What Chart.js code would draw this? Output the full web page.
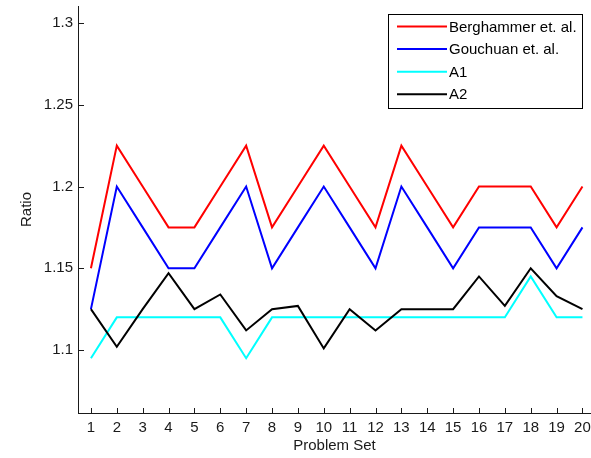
<!DOCTYPE html>
<html>
<head>
<meta charset="utf-8">
<script src="https://cdn.jsdelivr.net/npm/chart.js@4/dist/chart.umd.min.js"></script>
<style>
	html, body { margin: 0; padding: 0; background: #fff; }
	#wrap { width: 591px; height: 458px; }
</style>
</head>
<body>
<div id="wrap"><canvas id="chart" width="591" height="458"></canvas></div>
<script>
const problemSets = [1, 2, 3, 4, 5, 6, 7, 8, 9, 10, 11, 12, 13, 14, 15, 16, 17, 18, 19, 20];
const berghammer = [1.15, 1.225, 1.2, 1.175, 1.175, 1.2, 1.225, 1.175, 1.2, 1.225, 1.2, 1.175, 1.225, 1.2, 1.175, 1.2, 1.2, 1.2, 1.175, 1.2];
const gouchuan = [1.125, 1.2, 1.175, 1.15, 1.15, 1.175, 1.2, 1.15, 1.175, 1.2, 1.175, 1.15, 1.2, 1.175, 1.15, 1.175, 1.175, 1.175, 1.15, 1.175];
const a1 = [1.095, 1.12, 1.12, 1.12, 1.12, 1.12, 1.095, 1.12, 1.12, 1.12, 1.12, 1.12, 1.12, 1.12, 1.12, 1.12, 1.12, 1.145, 1.12, 1.12];
const a2 = [1.125, 1.102, 1.125, 1.147, 1.125, 1.134, 1.112, 1.125, 1.127, 1.101, 1.125, 1.112, 1.125, 1.125, 1.125, 1.145, 1.127, 1.15, 1.133, 1.125];
const yTicks = [1.1, 1.15, 1.2, 1.25, 1.3];

const FONT = "'Liberation Sans', Arial, sans-serif";
const FONT_SIZE = 15;
const INK = '#1a1a1a';

function series(label, values, color, order){
	return {
		label: label,
		data: problemSets.map((p, i) => ({x: p, y: values[i]})),
		borderColor: color,
		backgroundColor: color,
		borderWidth: 2,
		pointRadius: 0,
		tension: 0,
		fill: false,
		order: order
	};
}

// MATLAB style ticks pointing into the plot
const inwardTicks = {
	id: 'inwardTicks',
	afterDraw(chart){
		const ctx = chart.ctx;
		const area = chart.chartArea;
		ctx.save();
		ctx.strokeStyle = INK;
		ctx.lineWidth = 1;
		ctx.beginPath();
		chart.scales.y.ticks.forEach(t => {
			const py = Math.round(chart.scales.y.getPixelForValue(t.value)) + 0.5;
			ctx.moveTo(area.left, py);
			ctx.lineTo(area.left + 6, py);
		});
		chart.scales.x.ticks.forEach(t => {
			const px = Math.round(chart.scales.x.getPixelForValue(t.value)) + 0.5;
			ctx.moveTo(px, area.bottom);
			ctx.lineTo(px, area.bottom - 5);
		});
		ctx.stroke();
		ctx.restore();
	}
};

// boxed legend in the top right corner of the axes
const boxLegend = {
	id: 'boxLegend',
	afterDraw(chart){
		const ctx = chart.ctx;
		const x0 = 388.5, y0 = 14.5, w = 194, h = 94;
		ctx.save();
		ctx.fillStyle = '#fff';
		ctx.fillRect(x0, y0, w, h);
		ctx.strokeStyle = '#000';
		ctx.lineWidth = 1;
		ctx.strokeRect(x0, y0, w, h);
		ctx.font = FONT_SIZE + 'px ' + FONT;
		ctx.textBaseline = 'middle';
		ctx.textAlign = 'left';
		chart.data.datasets.forEach((ds, i) => {
			const yy = 26.5 + i * 22.6;
			ctx.strokeStyle = ds.borderColor;
			ctx.lineWidth = 2;
			ctx.beginPath();
			ctx.moveTo(397, yy);
			ctx.lineTo(447, yy);
			ctx.stroke();
			ctx.fillStyle = '#000';
			ctx.fillText(ds.label, 449, yy + 1);
		});
		ctx.restore();
	}
};

new Chart(document.getElementById('chart').getContext('2d'), {
	type: 'line',
	data: {
		datasets: [
			series('Berghammer et. al.', berghammer, '#ff0000', 4),
			series('Gouchuan et. al.', gouchuan, '#0000ff', 3),
			series('A1', a1, '#00ffff', 2),
			series('A2', a2, '#000000', 1)
		]
	},
	options: {
		responsive: false,
		animation: false,
		devicePixelRatio: 1,
		layout: { padding: { top: 6, right: 0, bottom: 0, left: 0 } },
		plugins: {
			legend: { display: false },
			tooltip: { enabled: false }
		},
		scales: {
			x: {
				type: 'linear',
				min: 0.5,
				max: 20.33,
				afterBuildTicks: s => { s.ticks = problemSets.map(v => ({value: v})); },
				afterFit: s => { s.height = 45; s.paddingLeft = 0; s.paddingRight = 0; },
				grid: { display: false, drawTicks: false },
				border: { display: true, color: INK, width: 1 },
				ticks: {
					color: INK,
					font: { family: FONT, size: FONT_SIZE },
					padding: 6,
					maxRotation: 0,
					autoSkip: false,
					callback: v => String(v)
				},
				title: {
					display: true,
					text: 'Problem Set',
					color: INK,
					font: { family: FONT, size: FONT_SIZE },
					padding: { top: 0, bottom: 3 }
				}
			},
			y: {
				type: 'linear',
				min: 1.0615,
				max: 1.3104,
				afterBuildTicks: s => { s.ticks = yTicks.map(v => ({value: v})); },
				afterFit: s => { s.width = 78; s.paddingTop = 0; s.paddingBottom = 0; },
				grid: { display: false, drawTicks: false },
				border: { display: true, color: INK, width: 1 },
				ticks: {
					color: INK,
					font: { family: FONT, size: FONT_SIZE },
					padding: 5,
					callback: v => String(v)
				},
				title: {
					display: true,
					text: 'Ratio',
					color: INK,
					font: { family: FONT, size: FONT_SIZE },
					padding: { top: 18, bottom: 0 }
				}
			}
		}
	},
	plugins: [inwardTicks, boxLegend]
});
</script>
</body>
</html>
